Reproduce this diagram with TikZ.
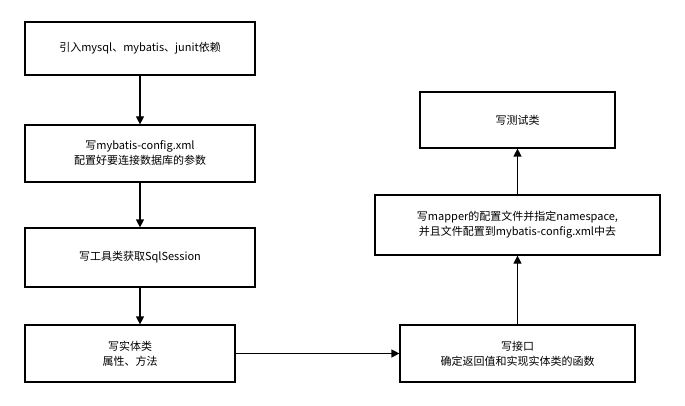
\documentclass[tikz,border=0pt]{standalone}
\usepackage{fontspec}
\setmainfont{Noto Sans CJK SC}
\usetikzlibrary{arrows.meta}
\begin{document}
\begin{tikzpicture}[x=1pt,y=-1pt,
 box/.style={draw,line width=1.2pt,align=center,font=\fontsize{11}{15}\selectfont,inner sep=0pt},
 arr/.style={-{Triangle[length=8pt,width=8pt]},line width=1.2pt}]
\useasboundingbox (0,0) rectangle (685,406);
\node[box,minimum width=230,minimum height=53] (a) at (140,48.5) {引入mysql、mybatis、junit依赖};
\node[box,minimum width=230,minimum height=57] (b) at (140,153.5) {写mybatis-config.xml\\配置好要连接数据库的参数};
\node[box,minimum width=230,minimum height=59] (c) at (140,257.5) {写工具类获取SqlSession};
\node[box,minimum width=210,minimum height=57] (d) at (130,353.5) {写实体类\\属性、方法};
\node[box,minimum width=235,minimum height=57] (e) at (517.5,353.5) {写接口\\确定返回值和实现实体类的函数};
\node[box,minimum width=285,minimum height=60] (f) at (517.5,225) {写mapper的配置文件并指定namespace,\\并且文件配置到mybatis-config.xml中去};
\node[box,minimum width=195,minimum height=56] (g) at (517.5,120) {写测试类};
\draw[arr] (a) -- (b);
\draw[arr] (b) -- (c);
\draw[arr] (c) -- (c|-d.north);
\draw[arr] (d) -- (e);
\draw[arr] (e) -- (f);
\draw[arr] (f) -- (g);
\end{tikzpicture}
\end{document}
